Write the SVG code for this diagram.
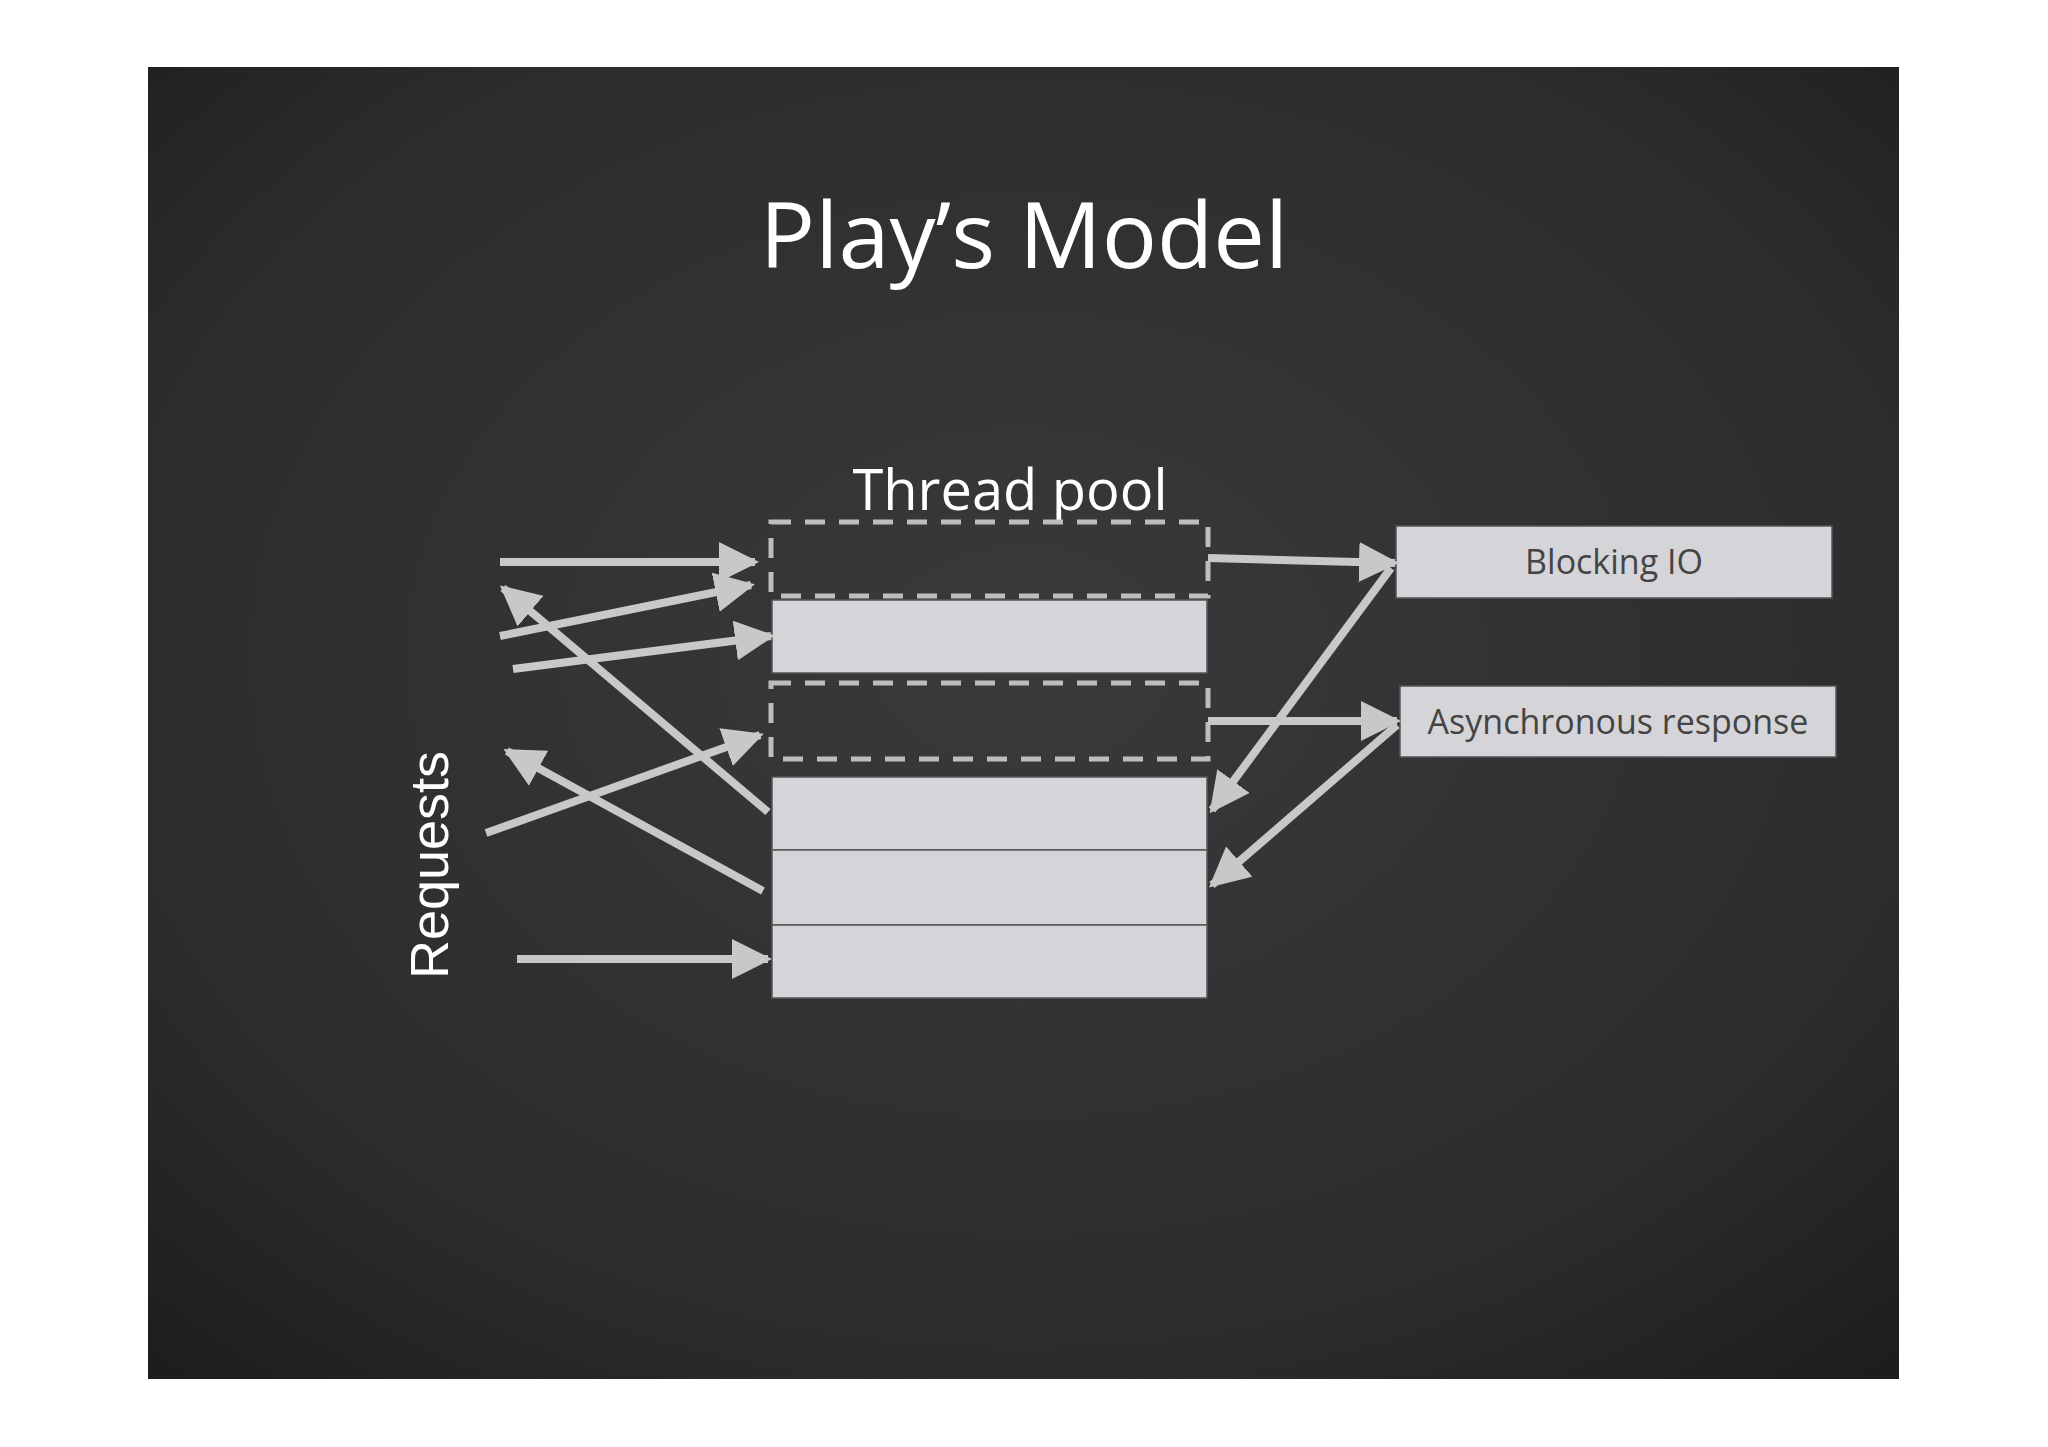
<svg xmlns="http://www.w3.org/2000/svg" width="2048" height="1447" viewBox="0 0 2048 1447">
<defs>
<radialGradient id="bg" cx="0.5" cy="0.45" r="0.75">
<stop offset="0" stop-color="#3a3a3c"/><stop offset="0.7" stop-color="#2c2c2e"/><stop offset="1" stop-color="#1c1c1e"/>
</radialGradient>
<marker id="ah" viewBox="0 0 10 10" refX="9" refY="5" markerWidth="5" markerHeight="5" orient="auto" markerUnits="strokeWidth">
<path d="M0,0 L10,5 L0,10 Z" fill="#c8c8c8"/>
</marker>
<style>
.a{stroke:#c8c8c8;stroke-width:8;fill:none;marker-end:url(#ah)}
.s{fill:#d5d4d8;stroke:#555;stroke-width:1.5}
.d{fill:none;stroke:#bdbdbd;stroke-width:5;stroke-dasharray:20 14}
.t{font-family:"Open Sans","Liberation Sans",sans-serif;fill:#444}
</style>
</defs>
<rect width="2048" height="1447" fill="#fff"/>
<rect x="148" y="67" width="1751" height="1312" fill="url(#bg)"/>
<text x="1024" y="268" text-anchor="middle" font-family="Open Sans, Liberation Sans, sans-serif" font-size="92" fill="#fff">Play’s Model</text>
<text x="1010" y="510" text-anchor="middle" font-family="Open Sans, Liberation Sans, sans-serif" font-size="56" fill="#fff">Thread pool</text>
<text transform="translate(448,865) rotate(-90)" text-anchor="middle" font-family="Liberation Sans, sans-serif" font-size="54" fill="#fff">Requests</text>
<g id="pool">
<rect id="slot1" class="d" x="771" y="522" width="437" height="74"/>
<rect id="t1" class="s" x="772" y="600" width="435" height="73"/>
<rect id="slot2" class="d" x="771" y="683" width="437" height="76"/>
<rect id="t2" class="s" x="772" y="777" width="435" height="73"/>
<rect id="t3" class="s" x="772" y="850" width="435" height="75"/>
<rect id="t4" class="s" x="772" y="925" width="435" height="73"/>
</g>
<g id="blocking"><rect class="s" x="1396" y="526" width="436" height="72"/><text class="t" x="1614" y="574" text-anchor="middle" font-size="34">Blocking IO</text></g>
<g id="async"><rect class="s" x="1400" y="686" width="436" height="71"/><text class="t" x="1618" y="734" text-anchor="middle" font-size="34">Asynchronous response</text></g>
<g id="connectors">
<line class="a" x1="500" y1="562" x2="755" y2="562"/>
<line class="a" x1="500" y1="636" x2="751" y2="585"/>
<line class="a" x1="513" y1="669" x2="771" y2="636"/>
<line class="a" x1="768" y1="812" x2="503" y2="588"/>
<line class="a" x1="486" y1="833" x2="760" y2="735"/>
<line class="a" x1="763" y1="891" x2="507" y2="751"/>
<line class="a" x1="517" y1="959" x2="768" y2="959"/>
<line class="a" x1="1208" y1="558" x2="1395" y2="563"/>
<line class="a" x1="1208" y1="721" x2="1397" y2="721"/>
<line class="a" x1="1391" y1="568" x2="1212" y2="810"/>
<line class="a" x1="1397" y1="725" x2="1212" y2="885"/>
</g>
</svg>
